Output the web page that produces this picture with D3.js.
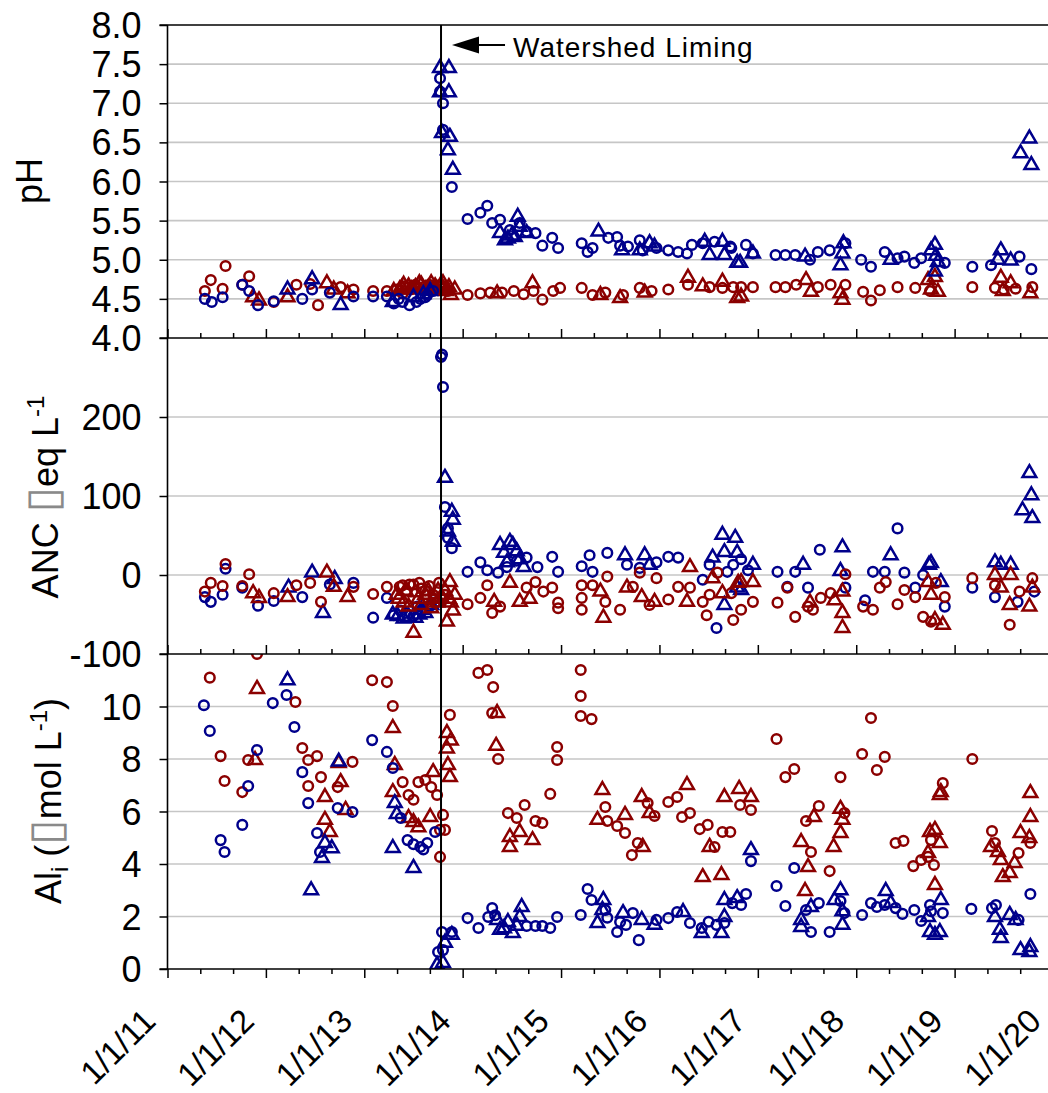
<!DOCTYPE html>
<html><head><meta charset="utf-8">
<script src="https://cdn.jsdelivr.net/npm/d3@7"></script>
<style>
html,body{margin:0;padding:0;background:#fff;}
text{font-family:"Liberation Sans",Arial,sans-serif;}
</style></head>
<body><svg id="chart" width="1048" height="1093"></svg>
<script>
// ---------- data ----------
const yearTicks = [2011,2012,2013,2014,2015,2016,2017,2018,2019,2020];
const yearLabels = ["1/1/11","1/1/12","1/1/13","1/1/14","1/1/15","1/1/16","1/1/17","1/1/18","1/1/19","1/1/20"];
const phTicks = [4.0,4.5,5.0,5.5,6.0,6.5,7.0,7.5,8.0];
const ancTicks = [-100,0,100,200];
const alTicks = [0,2,4,6,8,10];
const limingYear = 2013.78;
const limingLabel = "Watershed Liming";

// pH  [decimal year, value]
const phBlueCircle = [[2011.38,4.50],[2011.45,4.46],[2011.56,4.52],[2011.76,4.68],[2011.83,4.60],[2011.92,4.42],[2012.08,4.47],[2012.37,4.50],[2012.47,4.62],[2012.65,4.58],[2012.89,4.53],[2013.09,4.53],[2013.23,4.53],[2013.30,4.44],[2013.35,4.50],[2013.39,4.46],[2013.46,4.42],[2013.53,4.46],[2013.57,4.50],[2013.62,4.52],[2013.64,4.55],[2013.70,4.60],
 [2013.77,7.32],[2013.77,7.15],[2013.80,7.00],[2013.80,6.66],[2013.89,5.93],[2014.05,5.52],[2014.18,5.60],[2014.25,5.69],[2014.30,5.47],[2014.38,5.51],[2014.48,5.38],[2014.58,5.47],[2014.65,5.36],[2014.74,5.34],[2014.81,5.18],[2014.91,5.28],[2014.97,5.15],[2015.21,5.21],[2015.27,5.10],[2015.32,5.15],[2015.48,5.28],[2015.57,5.29],[2015.60,5.18],[2015.68,5.17],[2015.80,5.25],[2015.83,5.12],[2015.97,5.15],[2016.09,5.12],[2016.19,5.10],[2016.28,5.08],[2016.33,5.19],[2016.44,5.21],[2016.56,5.23],[2016.72,5.17],[2016.73,5.15],[2016.88,5.19],[2016.95,5.08],[2017.18,5.06],[2017.28,5.06],[2017.38,5.06],[2017.53,5.00],[2017.61,5.10],[2017.73,5.12],[2017.89,5.21],[2018.05,5.00],[2018.15,4.91],[2018.29,5.10],[2018.42,5.02],[2018.49,5.04],[2018.59,4.96],[2018.66,5.02],[2018.90,4.96],[2019.18,4.91],[2019.37,4.93],[2019.66,5.04],[2019.78,4.88]];
const phBlueTriangle = [[2012.22,4.62],[2012.47,4.75],[2012.76,4.42],[2013.29,4.46],[2013.50,4.52],[2013.60,4.56],[2013.67,4.60],
 [2013.77,7.45],[2013.86,7.45],[2013.77,7.14],[2013.86,7.14],[2013.79,6.62],[2013.87,6.57],[2013.85,6.40],[2013.90,6.15],[2014.38,5.34],[2014.43,5.25],[2014.50,5.31],[2014.56,5.55],[2014.58,5.42],[2014.65,5.34],[2014.46,5.27],[2014.53,5.29],[2015.38,5.36],[2015.62,5.12],[2015.80,5.12],[2015.90,5.21],[2015.95,5.17],[2016.46,5.23],[2016.51,5.06],[2016.64,5.23],[2016.66,5.06],[2016.79,4.96],[2016.82,4.96],[2016.95,5.08],[2017.48,5.04],[2017.84,4.93],[2017.86,5.08],[2017.87,5.21],[2018.35,5.00],[2018.76,5.12],[2018.80,5.19],[2018.81,5.05],[2018.83,4.97],[2018.80,4.85],[2019.47,5.12],[2019.44,5.00],[2019.57,4.99],[2019.76,6.55],[2019.67,6.36],[2019.78,6.21]];
const phRedCircle = [[2011.38,4.60],[2011.44,4.74],[2011.56,4.63],[2011.59,4.92],[2011.76,4.68],[2011.83,4.79],[2012.08,4.46],[2012.31,4.68],[2012.45,4.69],[2012.53,4.42],[2012.76,4.65],[2012.89,4.62],[2013.09,4.60],[2013.23,4.60],[2013.33,4.62],[2013.39,4.57],[2013.42,4.66],[2013.47,4.62],[2013.52,4.68],[2013.55,4.64],[2013.62,4.66],[2013.66,4.68],[2013.70,4.65],[2013.76,4.67],[2013.80,4.63],[2013.82,4.66],[2013.85,4.60],
 [2014.05,4.55],[2014.18,4.57],[2014.28,4.58],[2014.40,4.58],[2014.52,4.60],[2014.62,4.56],[2014.72,4.60],[2014.81,4.49],[2014.92,4.60],[2014.99,4.64],[2015.21,4.64],[2015.32,4.55],[2015.45,4.58],[2015.63,4.55],[2015.80,4.64],[2015.92,4.60],[2016.09,4.62],[2016.29,4.68],[2016.51,4.65],[2016.64,4.64],[2016.75,4.65],[2016.83,4.65],[2016.95,4.65],[2017.18,4.65],[2017.28,4.65],[2017.39,4.68],[2017.61,4.65],[2017.74,4.68],[2017.89,4.68],[2018.07,4.59],[2018.15,4.48],[2018.24,4.61],[2018.42,4.65],[2018.60,4.64],[2018.75,4.60],[2019.18,4.65],[2019.41,4.64],[2019.50,4.62],[2019.62,4.63],[2019.79,4.65]];
const phRedTriangle = [[2011.87,4.52],[2011.93,4.48],[2012.22,4.52],[2012.62,4.70],[2012.69,4.62],[2012.83,4.57],[2013.30,4.60],[2013.36,4.62],[2013.38,4.64],[2013.40,4.68],[2013.45,4.66],[2013.48,4.62],[2013.52,4.65],[2013.56,4.70],[2013.58,4.68],[2013.62,4.62],[2013.65,4.64],[2013.68,4.70],[2013.72,4.66],[2013.74,4.62],[2013.78,4.68],[2013.80,4.70],[2013.83,4.60],[2013.86,4.65],[2013.88,4.55],[2013.92,4.62],
 [2014.35,4.57],[2014.71,4.70],[2015.40,4.55],[2015.60,4.51],[2015.85,4.58],[2016.29,4.77],[2016.44,4.66],[2016.64,4.72],[2016.79,4.51],[2016.83,4.53],[2017.49,4.74],[2017.54,4.59],[2017.84,4.57],[2017.86,4.49],[2018.73,4.74],[2018.80,4.78],[2018.83,4.59],[2018.76,4.62],[2019.47,4.77],[2019.57,4.70],[2019.49,4.60],[2019.77,4.57]];

// ANC (ueq/L)
const ancBlueCircle = [[2011.38,-28],[2011.44,-34],[2011.56,-25],[2011.59,8],[2011.76,-16],[2011.92,-39],[2012.08,-33],[2012.37,-28],[2012.65,-12],[2012.89,-10],[2013.09,-54],[2013.23,-29],[2013.30,-51],[2013.37,-45],[2013.42,-48],[2013.50,-52],[2013.54,-40],[2013.58,-45],[2013.66,-40],[2013.72,-35],
 [2013.78,276],[2013.79,279],[2013.80,238],[2013.82,86],[2013.85,59],[2013.85,47],[2013.89,34],[2014.05,4],[2014.18,16],[2014.25,6],[2014.36,3],[2014.45,10],[2014.55,18],[2014.65,22],[2014.76,10],[2014.91,23],[2014.97,4],[2015.21,11],[2015.29,25],[2015.32,4],[2015.47,28],[2015.67,13],[2015.80,9],[2015.97,16],[2016.09,23],[2016.19,22],[2016.44,-6],[2016.51,13],[2016.58,-67],[2016.69,4],[2016.75,13],[2016.83,20],[2016.90,6],[2017.20,4],[2017.30,-15],[2017.38,4],[2017.51,-16],[2017.63,32],[2017.89,-16],[2018.09,-32],[2018.17,4],[2018.29,4],[2018.42,59],[2018.49,3],[2018.60,-16],[2018.68,0],[2018.90,-40],[2019.18,-16],[2019.41,-28],[2019.64,-34],[2019.81,-21]];
const ancBlueTriangle = [[2012.23,-16],[2012.47,3],[2012.58,-48],[2012.70,-5],[2013.29,-50],[2013.34,-52],[2013.40,-55],[2013.45,-53],[2013.52,-54],[2013.56,-50],[2013.58,-44],[2013.62,-48],[2013.68,-38],
 [2013.82,123],[2013.89,80],[2013.90,70],[2013.85,55],[2013.90,42],[2014.38,38],[2014.48,42],[2014.51,38],[2014.45,16],[2014.58,20],[2014.42,28],[2014.55,30],[2014.62,10],[2015.65,25],[2015.85,25],[2015.90,13],[2016.54,22],[2016.64,51],[2016.66,29],[2016.66,-38],[2016.79,-16],[2016.77,47],[2016.79,28],[2016.83,-19],[2016.95,13],[2017.46,13],[2017.86,35],[2017.84,5],[2018.35,25],[2018.74,13],[2018.76,15],[2018.86,-9],[2019.41,16],[2019.47,13],[2019.57,13],[2019.76,129],[2019.78,101],[2019.69,82],[2019.79,72]];
const ancRedCircle = [[2011.38,-21],[2011.44,-10],[2011.56,-14],[2011.59,14],[2011.76,-14],[2011.83,1],[2012.08,-23],[2012.31,-13],[2012.45,-10],[2012.56,-34],[2012.89,-15],[2013.09,-24],[2013.23,-15],[2013.36,-15],[2013.39,-13],[2013.43,-20],[2013.46,-12],[2013.50,-12],[2013.56,-10],[2013.58,-17],[2013.62,-20],[2013.66,-14],[2013.70,-25],[2013.72,-35],[2013.76,-10],[2013.80,-30],[2013.82,-25],
 [2014.05,-37],[2014.18,-29],[2014.25,-13],[2014.30,-48],[2014.38,-40],[2014.65,-16],[2014.74,-9],[2014.82,-21],[2014.91,-16],[2014.97,-35],[2014.97,-42],[2015.21,-13],[2015.21,-29],[2015.21,-44],[2015.32,-13],[2015.47,-2],[2015.45,-34],[2015.60,-44],[2015.73,-15],[2015.80,3],[2015.90,-38],[2015.97,-4],[2016.09,-31],[2016.19,-15],[2016.31,-16],[2016.44,-34],[2016.48,-51],[2016.51,-25],[2016.59,3],[2016.73,-23],[2016.75,-57],[2016.83,-44],[2016.95,-34],[2017.20,-35],[2017.30,-16],[2017.38,-53],[2017.51,-40],[2017.56,-44],[2017.64,-29],[2017.74,-23],[2017.89,1],[2018.07,-40],[2018.17,-44],[2018.24,-16],[2018.30,-9],[2018.42,-37],[2018.49,-19],[2018.60,-28],[2018.68,-53],[2018.76,-59],[2018.81,-10],[2018.90,-28],[2019.18,-4],[2019.41,-13],[2019.56,-63],[2019.66,-21],[2019.79,-4]];
const ancRedTriangle = [[2011.87,-23],[2011.93,-29],[2012.22,-28],[2012.62,3],[2012.69,-15],[2012.83,-28],[2013.33,-25],[2013.35,-30],[2013.40,-35],[2013.42,-20],[2013.45,-40],[2013.50,-73],[2013.52,-22],[2013.55,-30],[2013.58,-38],[2013.62,-25],[2013.65,-20],[2013.68,-42],[2013.70,-30],[2013.74,-35],[2013.75,-20],[2013.78,-28],[2013.82,-20],[2013.88,-35],[2013.92,-25],
 [2013.87,-9],[2013.84,-59],[2013.86,-30],[2013.90,-45],[2014.32,-34],[2014.48,-10],[2014.58,-34],[2014.68,-30],[2015.40,-21],[2015.43,-54],[2015.67,-16],[2015.82,-28],[2015.95,-34],[2016.28,-34],[2016.31,10],[2016.54,-4],[2016.64,-23],[2016.80,-10],[2016.83,-9],[2016.95,-9],[2017.53,-35],[2017.78,-32],[2017.86,-21],[2017.86,-48],[2017.86,-67],[2018.73,-9],[2018.76,-25],[2018.80,-57],[2018.88,-63],[2019.41,0],[2019.47,-16],[2019.57,0],[2019.56,-38],[2019.76,-40],[2019.79,-16]];

// Al_i (umol/L)
const alBlueCircle = [[2011.37,10.05],[2011.43,9.07],[2011.54,4.91],[2011.58,4.46],[2011.76,5.49],[2011.82,6.97],[2011.91,8.34],[2012.07,10.13],[2012.21,10.44],[2012.29,9.22],[2012.37,7.50],[2012.43,6.32],[2012.52,5.18],[2012.55,4.46],[2012.73,6.13],[2012.88,5.98],[2013.08,8.72],[2013.23,8.27],[2013.29,7.66],[2013.37,5.75],[2013.44,4.91],[2013.50,4.75],[2013.57,4.65],[2013.64,4.80],[2013.60,4.55],[2013.72,5.22],
 [2013.75,0.65],[2013.80,0.72],[2013.79,1.41],[2013.89,1.41],[2014.05,1.94],[2014.16,1.56],[2014.26,1.98],[2014.30,2.32],[2014.33,2.05],[2014.65,1.64],[2014.74,1.64],[2014.81,1.64],[2014.89,1.56],[2014.96,1.98],[2015.20,2.06],[2015.27,3.05],[2015.31,2.63],[2015.45,2.25],[2015.47,1.95],[2015.57,1.41],[2015.60,1.79],[2015.66,1.68],[2015.73,2.13],[2015.79,1.10],[2015.97,1.87],[2016.09,1.94],[2016.18,2.17],[2016.31,1.75],[2016.43,1.56],[2016.50,1.80],[2016.58,1.68],[2016.66,1.75],[2016.74,2.51],[2016.83,2.44],[2016.88,2.86],[2016.93,4.11],[2017.19,3.16],[2017.28,2.40],[2017.37,3.85],[2017.49,2.25],[2017.54,1.41],[2017.62,2.51],[2017.73,1.41],[2017.84,2.59],[2017.88,2.13],[2018.06,2.06],[2018.15,2.51],[2018.21,2.36],[2018.29,2.44],[2018.40,2.32],[2018.47,2.10],[2018.59,2.25],[2018.66,1.83],[2018.75,2.44],[2018.76,2.20],[2018.88,2.13],[2019.17,2.29],[2019.38,2.32],[2019.42,2.44],[2019.65,1.87],[2019.77,2.86]];
const alBlueTriangle = [[2012.22,11.0],[2012.46,3.0],[2012.57,4.23],[2012.60,4.80],[2012.67,4.60],[2012.74,7.90],[2013.29,4.61],[2013.31,6.32],[2013.33,5.90],[2013.50,3.85],
 [2013.74,0.15],[2013.80,0.23],[2013.82,1.00],[2013.89,1.30],[2014.35,1.87],[2014.38,1.49],[2014.46,1.79],[2014.51,1.37],[2014.60,2.36],[2014.58,1.98],[2014.42,1.55],[2014.55,1.65],[2015.37,1.75],[2015.43,2.63],[2015.42,2.25],[2015.63,2.13],[2015.82,1.87],[2015.95,1.68],[2016.24,2.17],[2016.43,1.37],[2016.63,1.37],[2016.66,1.98],[2016.66,2.63],[2016.79,2.70],[2016.93,4.53],[2017.44,1.87],[2017.44,1.60],[2017.54,2.36],[2017.78,2.63],[2017.84,3.00],[2017.86,2.20],[2017.86,1.68],[2018.30,2.97],[2018.35,2.51],[2018.73,1.98],[2018.75,1.41],[2018.80,1.30],[2018.85,1.41],[2018.86,2.63],[2019.41,1.98],[2019.46,1.49],[2019.47,1.18],[2019.56,2.06],[2019.62,1.87],[2019.67,0.72],[2019.77,0.84],[2019.76,0.65]];
const alRedCircle = [[2011.43,11.10],[2011.54,8.11],[2011.58,7.16],[2011.76,6.74],[2011.82,7.96],[2011.91,12.0],[2012.30,10.17],[2012.37,8.42],[2012.43,7.96],[2012.43,6.97],[2012.52,8.11],[2012.56,7.31],[2012.73,6.93],[2012.88,7.89],[2013.08,11.00],[2013.23,10.93],[2013.29,10.02],[2013.39,7.12],[2013.45,6.63],[2013.50,6.45],[2013.55,7.12],[2013.62,7.20],[2013.68,6.93],[2013.74,6.63],[2013.77,4.27],[2013.77,5.30],[2013.80,5.87],[2013.82,5.30],[2013.87,9.68],
 [2014.16,11.28],[2014.25,11.39],[2014.31,10.74],[2014.30,9.75],[2014.36,8.00],[2014.46,5.94],[2014.55,5.75],[2014.63,6.25],[2014.74,5.64],[2014.81,5.56],[2014.89,6.67],[2014.96,8.46],[2014.96,7.96],[2015.20,11.39],[2015.20,10.40],[2015.20,9.64],[2015.31,9.52],[2015.45,6.17],[2015.47,5.64],[2015.57,5.45],[2015.65,5.18],[2015.72,4.34],[2015.78,4.80],[2015.88,6.32],[2015.95,5.83],[2016.09,6.36],[2016.18,6.55],[2016.23,5.79],[2016.31,5.94],[2016.41,5.33],[2016.49,5.49],[2016.56,4.65],[2016.64,5.22],[2016.72,5.22],[2016.82,6.25],[2016.93,6.06],[2017.19,8.76],[2017.28,7.31],[2017.37,7.62],[2017.49,5.64],[2017.54,4.46],[2017.62,6.21],[2017.73,3.73],[2017.84,7.31],[2017.88,5.94],[2018.06,8.19],[2018.15,9.56],[2018.21,7.58],[2018.29,8.08],[2018.40,4.80],[2018.48,4.88],[2018.58,3.92],[2018.66,4.15],[2018.73,4.27],[2018.79,3.96],[2018.76,4.91],[2018.88,7.08],[2019.18,8.00],[2019.38,5.26],[2019.41,4.80],[2019.65,4.42],[2019.77,4.80]];
const alRedTriangle = [[2011.89,7.96],[2011.91,10.67],[2012.60,6.55],[2012.60,5.68],[2012.65,5.22],[2012.74,7.85],[2012.76,7.12],[2012.81,6.06],[2013.29,9.18],[2013.31,7.77],[2013.29,6.74],[2013.45,5.75],[2013.50,5.60],[2013.55,5.40],[2013.67,5.79],[2013.70,7.50],[2013.84,8.99],[2013.85,7.77],[2013.87,7.31],[2013.84,8.40],[2013.88,8.70],
 [2014.35,9.75],[2014.34,8.50],[2014.48,5.03],[2014.58,5.22],[2014.71,4.91],[2014.48,4.65],[2015.42,6.82],[2015.37,5.68],[2015.65,5.87],[2015.83,4.65],[2015.82,6.55],[2015.90,5.94],[2016.28,7.01],[2016.44,3.50],[2016.63,3.58],[2016.51,4.65],[2016.66,6.55],[2016.81,6.86],[2016.93,6.55],[2017.57,5.79],[2017.44,4.84],[2017.51,3.88],[2017.48,2.97],[2017.84,6.10],[2017.86,5.68],[2017.84,5.18],[2017.77,4.65],[2018.75,5.22],[2018.80,5.30],[2018.85,4.80],[2018.73,4.42],[2018.80,3.20],[2018.85,6.63],[2018.86,6.74],[2019.37,4.65],[2019.44,4.46],[2019.47,4.15],[2019.49,3.50],[2019.56,3.66],[2019.61,4.04],[2019.67,5.18],[2019.76,4.99],[2019.77,5.79],[2019.77,6.70]];

// ---------- drawing ----------
const BLUE = "#00008B", RED = "#8B0000";
const svg = d3.select("#chart");
svg.append("rect").attr("width",1048).attr("height",1093).attr("fill","#fff");

const x = d3.scaleLinear().domain([2011, 2020]).range([167.5, 1053]);
const xLeft = 167.5, xRight = 1060;

const panels = [
  {id:"ph", domain:[4,8], top:25, bottom:338, ticks:phTicks, fmt:d=>d.toFixed(1),
   series:[[phRedCircle,RED,"c"],[phRedTriangle,RED,"t"],[phBlueCircle,BLUE,"c"],[phBlueTriangle,BLUE,"t"]]},
  {id:"anc", domain:[-100,300], top:338, bottom:654, ticks:ancTicks, fmt:d=>String(d),
   series:[[ancBlueCircle,BLUE,"c"],[ancBlueTriangle,BLUE,"t"],[ancRedCircle,RED,"c"],[ancRedTriangle,RED,"t"]]},
  {id:"al", domain:[0,12], top:654, bottom:969, ticks:alTicks, fmt:d=>String(d),
   series:[[alRedCircle,RED,"c"],[alRedTriangle,RED,"t"],[alBlueCircle,BLUE,"c"],[alBlueTriangle,BLUE,"t"]]}
];

const defs = svg.append("defs");
const tri = d3.symbol().type(d3.symbolTriangle).size(82);

panels.forEach(p => {
  p.y = d3.scaleLinear().domain(p.domain).range([p.bottom, p.top]);
  svg.append("g").selectAll("line").data(p.ticks.filter(t => t > p.domain[0] && t < p.domain[1]))
    .join("line").attr("x1", xLeft).attr("x2", xRight)
    .attr("y1", d => p.y(d)).attr("y2", d => p.y(d))
    .attr("stroke", "#c6c6c6").attr("stroke-width", 1.6);
});

panels.forEach(p => {
  defs.append("clipPath").attr("id","clip-"+p.id).append("rect")
    .attr("x", xLeft).attr("y", p.top).attr("width", xRight - xLeft).attr("height", p.bottom - p.top);
  const g = svg.append("g").attr("clip-path","url(#clip-"+p.id+")");
  p.series.forEach(([data,color,shape]) => {
    if (shape === "c") {
      g.append("g").selectAll("circle").data(data).join("circle")
        .attr("cx", d => x(d[0])).attr("cy", d => p.y(d[1])).attr("r", 4.8)
        .attr("fill","none").attr("stroke",color).attr("stroke-width",2.5);
    } else {
      g.append("g").selectAll("path").data(data).join("path")
        .attr("d", tri).attr("transform", d => `translate(${x(d[0])},${p.y(d[1])})`)
        .attr("fill","none").attr("stroke",color).attr("stroke-width",2.5);
    }
  });
});

// y axes
panels.forEach(p => {
  const ax = d3.axisLeft(p.y).tickValues(p.ticks).tickFormat(p.fmt).tickSize(8).tickSizeOuter(0).tickPadding(18);
  const g = svg.append("g").attr("transform", `translate(${xLeft},0)`).call(ax);
  g.select(".domain").remove();
  g.selectAll(".tick line").attr("stroke","#000").attr("stroke-width",1.5);
  g.selectAll(".tick text").attr("font-size",36).attr("fill","#000")
    .attr("font-family",'"Liberation Sans",Arial,sans-serif').attr("dy","0.35em");
});

// horizontal panel boundary lines
[25, 338, 654, 969].forEach(yy => {
  svg.append("line").attr("x1", xLeft - 8).attr("x2", xRight).attr("y1", yy).attr("y2", yy)
    .attr("stroke","#000").attr("stroke-width",1.6);
});

// x ticks
const minorTicks = d3.range(0, 27).map(i => 2011 + i/3).filter(v => Math.abs(v - Math.round(v)) > 1e-6);
function xTicks(yPos, dir) {
  const major = d3.axisBottom(x).tickValues(yearTicks).tickSize(9).tickFormat("");
  const minor = d3.axisBottom(x).tickValues(minorTicks).tickSize(5).tickFormat("");
  [major, minor].forEach(ax => {
    const g = svg.append("g").attr("transform", `translate(0,${yPos}) scale(1,${dir})`).call(ax);
    g.select(".domain").remove();
    g.selectAll(".tick line").attr("stroke","#000").attr("stroke-width",1.5);
  });
}
xTicks(969, 1);
xTicks(654, -1);
xTicks(338, -1);

// y axis line
svg.append("line").attr("x1", xLeft).attr("x2", xLeft).attr("y1", 25).attr("y2", 969)
  .attr("stroke","#000").attr("stroke-width",1.6);

// x labels
svg.append("g").selectAll("text").data(yearTicks).join("text")
  .attr("transform", d => `translate(${x(d) - 10},1023) rotate(-45)`)
  .attr("text-anchor","end").attr("font-size",33).attr("fill","#000")
  .text((d,i) => yearLabels[i]);

// liming line + annotation
const lx = x(limingYear);
svg.append("line").attr("x1", lx).attr("x2", lx).attr("y1", 25).attr("y2", 969)
  .attr("stroke","#000").attr("stroke-width",2);
const ay = 45;
svg.append("line").attr("x1", lx + 30).attr("x2", lx + 64).attr("y1", ay).attr("y2", ay)
  .attr("stroke","#000").attr("stroke-width",2);
svg.append("path").attr("d", d3.line()([[lx + 11, ay],[lx + 38, ay - 8.5],[lx + 38, ay + 8.5]]) + "Z").attr("fill","#000");
svg.append("text").attr("x", lx + 72).attr("y", 57).attr("font-size", 28).attr("letter-spacing", 1)
  .attr("fill","#000").text(limingLabel);

// axis titles
svg.append("text").attr("transform","translate(42,181) rotate(-90)")
  .attr("text-anchor","middle").attr("font-size",36).text("pH");

const t2 = svg.append("text").attr("transform","translate(58,497) rotate(-90)")
  .attr("text-anchor","middle").attr("font-size",36);
t2.append("tspan").text("ANC ");
t2.append("tspan").attr("fill","#8a8a8a").attr("font-family","DejaVu Sans").attr("font-size",46).text("\u25AF");
t2.append("tspan").text("eq L");
t2.append("tspan").attr("font-size",24).attr("dy",-14).text("-1");

const t3 = svg.append("text").attr("transform","translate(61,801) rotate(-90)")
  .attr("text-anchor","middle").attr("font-size",36);
t3.append("tspan").text("Al");
t3.append("tspan").attr("font-size",24).attr("dy",7).text("i");
t3.append("tspan").attr("dy",-7).text(" (");
t3.append("tspan").attr("fill","#8a8a8a").attr("font-family","DejaVu Sans").attr("font-size",46).text("\u25AF");
t3.append("tspan").text("mol L");
t3.append("tspan").attr("font-size",24).attr("dy",-14).text("-1");
t3.append("tspan").attr("dy",14).text(")");
</script></body></html>
